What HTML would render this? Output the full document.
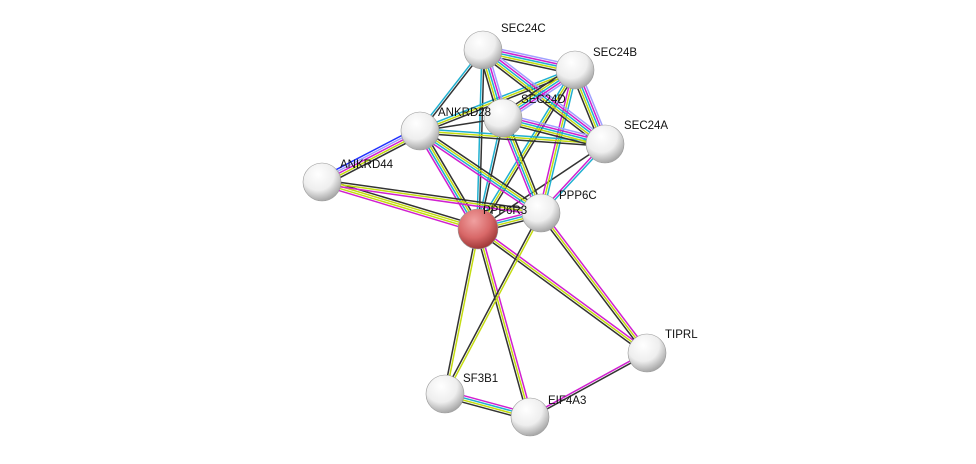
<!DOCTYPE html>
<html><head><meta charset="utf-8"><style>
html,body{margin:0;padding:0;background:#fff;width:976px;height:464px;overflow:hidden}
text{font-family:"Liberation Sans",sans-serif;font-size:11.5px;fill:#111}
</style></head><body>
<svg id="s" width="976" height="464" xmlns="http://www.w3.org/2000/svg">
<defs>
<radialGradient id="g" cx="40%" cy="30%" r="70%"><stop offset="0" stop-color="#fff"/><stop offset="0.6" stop-color="#eee"/><stop offset="1" stop-color="#a8a8a8"/></radialGradient>
<radialGradient id="r" cx="40%" cy="30%" r="70%"><stop offset="0" stop-color="#f0a0a0"/><stop offset="0.6" stop-color="#d86868"/><stop offset="1" stop-color="#a03838"/></radialGradient>
</defs>
<g id="edges"></g><g id="nodes"></g>
</svg>
<script>
var N={SEC24C:[483,50],SEC24B:[575,70],SEC24D:[503,118],ANKRD28:[420,131],SEC24A:[605,144],ANKRD44:[322,182],PPP6R3:[478,229],PPP6C:[541,213],TIPRL:[647,353],SF3B1:[445,394],EIF4A3:[530,417]};
var C={k:"#333",y:"#c4dc10",c:"#20b0d0",m:"#d020d0",b:"#2030ff",l:"#a0a0ff"};
var E=[["PPP6R3","ANKRD44","myyk"],["PPP6R3","ANKRD28","mcyk"],["PPP6R3","SEC24C","ck"],["PPP6R3","SEC24B","cyk"],["PPP6R3","SEC24D","ck"],["PPP6R3","SEC24A","k"],["PPP6R3","PPP6C","mcyk"],["PPP6R3","TIPRL","myk"],["PPP6R3","SF3B1","yk"],["PPP6R3","EIF4A3","myk"],["PPP6C","SF3B1","yk"],["PPP6C","TIPRL","myk"],["PPP6C","ANKRD28","mcyk"],["PPP6C","SEC24D","mcyk"],["PPP6C","SEC24B","myc"],["PPP6C","SEC24A","mc"],["PPP6C","ANKRD44","myk"],["SF3B1","EIF4A3","mcyk"],["EIF4A3","TIPRL","mk"],["ANKRD44","ANKRD28","blmyk"],["ANKRD28","SEC24C","ck"],["ANKRD28","SEC24B","cyk"],["ANKRD28","SEC24D","k"],["ANKRD28","SEC24A","cyk"],["SEC24C","SEC24B","lmcyk"],["SEC24C","SEC24D","lmcyk"],["SEC24C","SEC24A","lmcyk"],["SEC24B","SEC24D","lmcyk"],["SEC24B","SEC24A","lmcyk"],["SEC24D","SEC24A","lmcyk"]];
var ns="http://www.w3.org/2000/svg",eg=document.getElementById("edges"),ng=document.getElementById("nodes");
E.forEach(function(e){var a=N[e[0]],b=N[e[1]],dx=b[0]-a[0],dy=b[1]-a[1],L=Math.hypot(dx,dy),px=-dy/L,py=dx/L,n=e[2].length;
for(var i=0;i<n;i++){var o=(i-(n-1)/2)*2.2,l=document.createElementNS(ns,"line");
l.setAttribute("x1",a[0]+px*o);l.setAttribute("y1",a[1]+py*o);l.setAttribute("x2",b[0]+px*o);l.setAttribute("y2",b[1]+py*o);
l.setAttribute("stroke",C[e[2][i]]);l.setAttribute("stroke-width","1.5");eg.appendChild(l);}});
var lab={SEC24C:[18,-22],SEC24B:[18,-18],SEC24D:[18,-19],ANKRD28:[18,-19],SEC24A:[19,-19],ANKRD44:[18,-18],PPP6R3:[5,-19],PPP6C:[18,-18],TIPRL:[18,-19],SF3B1:[18,-16],EIF4A3:[18,-17]};
for(var k in N){var p=N[k],c=document.createElementNS(ns,"circle");c.setAttribute("cx",p[0]);c.setAttribute("cy",p[1]);c.setAttribute("r",k=="PPP6R3"?20:19);
c.setAttribute("fill",k=="PPP6R3"?"url(#r)":"url(#g)");c.setAttribute("stroke","#999");c.setAttribute("stroke-width","0.6");ng.appendChild(c);}
for(var k in N){var p=N[k],t=document.createElementNS(ns,"text");t.setAttribute("x",p[0]+lab[k][0]);t.setAttribute("y",p[1]+lab[k][1]+4);t.textContent=k;ng.appendChild(t);}
</script>
</body></html>
